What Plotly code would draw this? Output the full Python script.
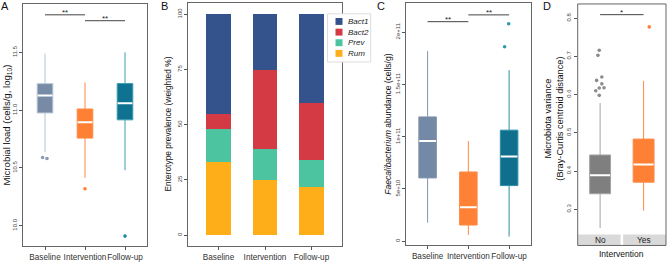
import plotly.graph_objects as go

W, H = 667, 262
FONT = "Liberation Sans"

# ---------------- data ----------------
groups = ["Baseline", "Intervention", "Follow-up"]

# Panel A: microbial load (log10 cells/g)
load_lo = [10.636, 10.414, 10.48]
load_q1 = [10.976, 10.758, 10.916]
load_med = [11.126, 10.895, 11.06]
load_q3 = [11.229, 11.01, 11.23]
load_hi = [11.49, 11.24, 11.50]
load_out_group = [0, 0, 1, 2]
load_out_jit = [-0.06, 0.05, 0.0, 0.0]
load_out_val = [10.590, 10.581, 10.32, 9.91]
load_ticks = [10.0, 10.5, 11.0, 11.5]
load_ticktext = ["10.0", "10.5", "11.0", "11.5"]

# Panel B: enterotype prevalence (weighted %)
enterotypes = ["Bact1", "Bact2", "Prev", "Rum"]
bact1 = [45, 25, 40]
bact2 = [7, 36, 26]
prev = [15, 14, 12]
rum = [33, 25, 22]
prev_ticks = [0, 25, 50, 75, 100]

# Panel C: Faecalibacterium abundance (cells/g)
faec_lo = [1.77e10, 0.60e10, 0.44e10]
faec_q1 = [6.05e10, 1.54e10, 5.32e10]
faec_med = [9.58e10, 3.24e10, 8.10e10]
faec_q3 = [11.89e10, 6.62e10, 10.62e10]
faec_hi = [18.18e10, 9.58e10, 16.36e10]
faec_out_group = [2, 2]
faec_out_jit = [-0.11, -0.01]
faec_out_val = [18.6e10, 20.8e10]
faec_ticks = [0, 5e10, 1e11, 1.5e11, 2e11]
faec_ticktext = ["0", "5e+10", "1e+11", "1.5e+11", "2e+11"]

# Panel D: microbiota variance
interv = ["No", "Yes"]
var_lo = [0.251, 0.296]
var_q1 = [0.3406, 0.3708]
var_med = [0.389, 0.4174]
var_q3 = [0.442, 0.4836]
var_hi = [0.578, 0.636]
var_out_group = [0, 0, 0, 0, 0, 0, 0, 0, 0, 1]
var_out_jit = [-0.10, -0.02, -0.02, 0.09, 0.04, -0.08, 0.04, -0.05, -0.02, 0.13]
var_out_val = [0.610, 0.598, 0.617, 0.618, 0.628, 0.637, 0.646, 0.7025, 0.716, 0.777]
var_ticks = [0.3, 0.4, 0.5, 0.6, 0.7, 0.8]

# significance brackets: (from, to, label, height)
sig_A = [(0, 1, "**", 11.825), (1, 2, "**", 11.774)]
sig_C = [(0, 1, "**", 21.0e10), (1, 2, "**", 21.65e10)]
sig_D = [(0, 1, "*", 0.809)]

# ---------------- styles ----------------
fillA = ["#778ba6", "#fe8034", "#0f7290"]
lineA = ["#b6c4d3", "#fe8a45", "#3a9db2"]
fillC = ["#7489a5", "#fe8136", "#0f6f8c"]
lineC = ["#8193ad", "#fe8a45", "#2c8ea7"]
fillD = ["#7f7f7f", "#fe8035"]
lineD = ["#a3a3a3", "#fe8b4a"]
ent_colors = {"Bact1": "#34528b", "Bact2": "#d43a43", "Prev": "#4cc49f", "Rum": "#fdae19"}


def px_x(p):
    return p / W


def px_y(p):
    return 1 - p / H


fig = go.Figure()


def add_boxes(xa, ya, lo, q1, med, q3, hi, fills, lines, width):
    seg_x, seg_y = [], []
    for i in range(len(med)):
        fig.add_trace(go.Box(
            x=[i], q1=[q1[i]], median=[med[i]], q3=[q3[i]],
            lowerfence=[lo[i]], upperfence=[hi[i]],
            width=width, fillcolor=fills[i], line=dict(color=lines[i], width=1),
            whiskerwidth=0, boxpoints=False, showlegend=False,
            xaxis=xa, yaxis=ya, hoverinfo="skip"))
        seg_x += [i - width / 2 + 0.01, i + width / 2 - 0.01, None]
        seg_y += [med[i], med[i], None]
    fig.add_trace(go.Scatter(x=seg_x, y=seg_y, mode="lines",
                             line=dict(color="white", width=2),
                             showlegend=False, xaxis=xa, yaxis=ya, hoverinfo="skip"))


def add_outliers(xa, ya, grp, jit, val, colors):
    for g, j, v in zip(grp, jit, val):
        fig.add_trace(go.Scatter(x=[g + j], y=[v], mode="markers",
                                 marker=dict(size=3.6, color=colors[g]),
                                 showlegend=False, xaxis=xa, yaxis=ya, hoverinfo="skip"))


# Panel A
add_boxes("x", "y", load_lo, load_q1, load_med, load_q3, load_hi, fillA, lineA, 0.39)
add_outliers("x", "y", load_out_group, load_out_jit, load_out_val, ["#8a9cb5", "#fe8034", "#1f86a0"])

# Panel B (stacked bars, bottom to top)
for name, vals in [("Rum", rum), ("Prev", prev), ("Bact2", bact2), ("Bact1", bact1)]:
    fig.add_trace(go.Bar(x=[0, 1, 2], y=vals, width=0.53, name=name,
                         marker=dict(color=ent_colors[name], line=dict(width=0)),
                         showlegend=False, xaxis="x2", yaxis="y2", hoverinfo="skip"))

# Panel C
add_boxes("x3", "y3", faec_lo, faec_q1, faec_med, faec_q3, faec_hi, fillC, lineC, 0.43)
add_outliers("x3", "y3", faec_out_group, faec_out_jit, faec_out_val, ["#7489a5", "#fe8136", "#2a9bb0"])

# Panel D
add_boxes("x4", "y4", var_lo, var_q1, var_med, var_q3, var_hi, fillD, lineD, 0.48)
add_outliers("x4", "y4", var_out_group, var_out_jit, var_out_val, ["#8c8c8c", "#fe8035"])

AX = dict(showgrid=False, zeroline=False, ticks="outside", ticklen=3, tickwidth=1,
          tickcolor="#555555", linecolor="#666666", linewidth=1)
XT = dict(size=8.2, color="#333333", family=FONT)
YT = dict(size=6, color="#444444", family=FONT)

layout = dict(
    width=W, height=H, margin=dict(l=0, r=0, t=0, b=0),
    paper_bgcolor="white", plot_bgcolor="white", barmode="stack",
    font=dict(family=FONT),
    xaxis=dict(AX, domain=[px_x(23), px_x(147)], range=[-0.55, 2.55], anchor="y",
               tickvals=[0, 1, 2], ticktext=groups, tickfont=XT, tickangle=0,
               showline=True, mirror=True),
    yaxis=dict(AX, domain=[px_y(249), px_y(4)], range=[9.823, 11.919], anchor="x",
               tickvals=load_ticks, ticktext=load_ticktext, tickangle=-90, tickfont=YT,
               showline=True, mirror=True),
    xaxis2=dict(AX, domain=[px_x(188.3), px_x(341.7)], range=[-0.65, 2.65], anchor="y2",
                tickvals=[0, 1, 2], ticktext=groups, tickfont=XT, tickangle=0,
                showline=True, mirror=True),
    yaxis2=dict(AX, domain=[px_y(249), px_y(3.3)], range=[-5, 105], anchor="x2",
                tickvals=prev_ticks, tickangle=-90, tickfont=YT, showline=True, mirror=True),
    xaxis3=dict(AX, domain=[px_x(406), px_x(530.7)], range=[-0.53, 2.53], anchor="y3",
                tickvals=[0, 1, 2], ticktext=groups, tickfont=XT, tickangle=0,
                showline=True, mirror=True),
    yaxis3=dict(AX, domain=[px_y(248.3), px_y(3)], range=[-0.41e10, 22.79e10], anchor="x3",
                tickvals=faec_ticks, ticktext=faec_ticktext, tickangle=-90, tickfont=YT,
                showline=True, mirror=True),
    xaxis4=dict(AX, domain=[px_x(577.7), px_x(666)], range=[-0.515, 1.515], anchor="y4",
                tickvals=[0, 1], showticklabels=False, ticks="", showline=False),
    yaxis4=dict(AX, domain=[px_y(237.3), px_y(4)], range=[0.2338, 0.837], anchor="x4",
                tickvals=var_ticks, tickangle=-90, tickfont=YT, showline=False),
)
fig.update_layout(**layout)

shapes = []
annots = []

# significance brackets
for sig, xa, ya in [(sig_A, "x", "y"), (sig_C, "x3", "y3"), (sig_D, "x4", "y4")]:
    for a, b, lab, h in sig:
        shapes.append(dict(type="line", xref=xa, yref=ya, x0=a, x1=b, y0=h, y1=h,
                           line=dict(color="#444444", width=1)))
        annots.append(dict(xref=xa, yref=ya, x=(a + b) / 2, y=h, text=lab, showarrow=False,
                           yanchor="bottom", yshift=-4, font=dict(size=8, color="#222222")))

# Panel D frame and strips
shapes.append(dict(type="rect", xref="paper", yref="paper", x0=px_x(577.7), x1=px_x(666),
                   y0=px_y(248.3), y1=px_y(4), line=dict(color="#666666", width=1), layer="above"))
rng = layout["xaxis4"]["range"]
for (x0, x1), lab, xc in [((rng[0], 0.47), interv[0], 0), ((0.53, rng[1]), interv[1], 1)]:
    shapes.append(dict(type="rect", xref="x4", yref="paper", x0=x0, x1=x1,
                       y0=px_y(248.3), y1=px_y(237.3), fillcolor="#d9d9d9",
                       line=dict(width=0), layer="below"))
    annots.append(dict(xref="x4", yref="paper", x=xc, y=px_y(242.8), text=lab, showarrow=False,
                       font=dict(size=8.3, color="#1a1a1a"), yanchor="middle"))
annots.append(dict(xref="x4", yref="paper", x=0.5, y=px_y(257), text="Intervention", showarrow=False,
                   font=dict(size=8.5, color="#111111"), yanchor="middle"))

# Panel B legend (manual)
shapes.append(dict(type="rect", xref="paper", yref="paper", x0=px_x(327.5), x1=px_x(370.7),
                   y0=px_y(62.7), y1=px_y(14), fillcolor="white",
                   line=dict(color="#dddddd", width=1), layer="above"))
rows = [21.7, 32.5, 43.2, 54]
for name, ry in zip(enterotypes, rows):
    shapes.append(dict(type="rect", xref="paper", yref="paper", x0=px_x(335.5), x1=px_x(342.5),
                       y0=px_y(ry + 3.5), y1=px_y(ry - 3.5), fillcolor=ent_colors[name],
                       line=dict(width=0), layer="above"))
    annots.append(dict(xref="paper", yref="paper", x=px_x(345.5), y=px_y(ry), text="<i>%s</i>" % name,
                       showarrow=False, xanchor="left", yanchor="middle",
                       font=dict(size=8, color="#222222")))

# y-axis titles
for txt, xc, yc, sz in [
    ("Microbial load (cells/g, log<sub>10</sub>)", 7, 127, 9.6),
    ("Enterotype prevalence (weighted %)", 168, 126, 8.4),
    ("<i>Faecalibacterium</i> abundance (cells/g)", 388.5, 125.7, 8.5),
    ("Microbiota variance<br>(Bray-Curtis centroid distance)", 554, 120, 9.2),
]:
    annots.append(dict(xref="paper", yref="paper", x=px_x(xc), y=px_y(yc), text=txt, textangle=-90,
                       showarrow=False, xanchor="center", yanchor="middle",
                       font=dict(size=sz, color="#111111")))

# panel letters
for lab, xc in [("A", 4.5), ("B", 164), ("C", 380.5), ("D", 546.5)]:
    annots.append(dict(xref="paper", yref="paper", x=px_x(xc), y=px_y(6), text=lab, showarrow=False,
                       xanchor="center", yanchor="middle", font=dict(size=11, color="#111111")))

fig.update_layout(shapes=shapes, annotations=annots)
fig.write_html("out.html", config={"displayModeBar": False},
               post_script="document.body.style.margin='0px';"
                           "document.body.style.overflow='hidden';")
